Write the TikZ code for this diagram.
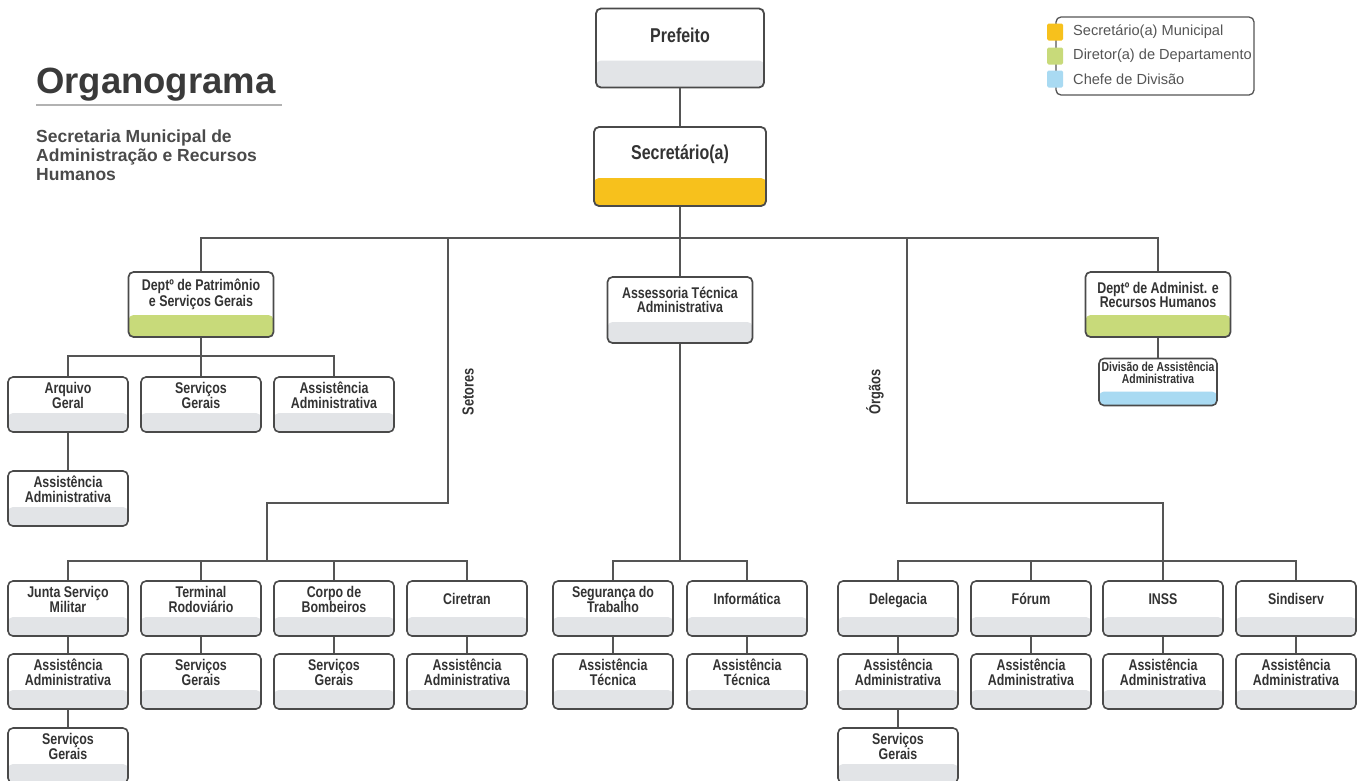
\documentclass[tikz,border=0pt]{standalone}
\usepackage{fontspec}
\setmainfont{Liberation Sans}
\newfontfamily\condfont[FakeStretch=0.8]{Liberation Sans}
\definecolor{linec}{HTML}{555555}
\definecolor{borderc}{HTML}{4A4A4A}
\definecolor{bandgrey}{HTML}{E2E4E7}
\definecolor{bandyellow}{HTML}{F7C11C}
\definecolor{bandgreen}{HTML}{C8DA7A}
\definecolor{bandblue}{HTML}{A9DAF2}
\definecolor{textc}{HTML}{333333}
\definecolor{titlec}{HTML}{3A3A3A}
\definecolor{subc}{HTML}{4A4A4A}
\definecolor{legtext}{HTML}{555555}
\begin{document}
\begin{tikzpicture}[x=1pt,y=-1pt,
  conn/.style={draw=linec, line width=1.6pt, line join=miter},
  base/.style={draw=borderc, line width=1.6pt, rounded corners=5pt, fill=white, inner sep=0pt},
  band/.style 2 args={path picture={\fill[#1] ([yshift=#2]path picture bounding box.south west) rectangle (path picture bounding box.south east);}},
  boxfont/.style={font=\condfont\bfseries\fontsize{15.5}{15}\selectfont, align=center, text=textc},
  sbox/.style={base, minimum width=120pt, minimum height=55pt, band={bandgrey}{19pt}},
  stext/.style={label={[boxfont, yshift=9.5pt]center:{#1}}},
  bigbox/.style={base, line width=1.8pt, minimum height=79pt},
  bigtext/.style={label={[font=\condfont\bfseries\fontsize{20}{22}\selectfont, text=textc, yshift=12.5pt]center:{#1}}},
  dbox/.style={base, line width=1.7pt, minimum width=145pt, minimum height=65pt},
  dtext/.style={label={[font=\condfont\bfseries\fontsize{15.5}{14}\selectfont, align=center, text=textc, yshift=10pt]center:{#1}}},
  side/.style={font=\condfont\bfseries\fontsize{16}{17}\selectfont, text=textc, rotate=90, inner sep=0pt},
  legsq/.style={minimum width=16pt, minimum height=17pt, inner sep=0pt, rounded corners=1.5pt},
  legtxt/.style={anchor=west, font=\fontsize{14.6}{16}\selectfont, text=legtext, inner sep=0pt}
]
\clip (0,0) rectangle (1362,780);
\fill[white] (0,0) rectangle (1362,780);

% title
\node[anchor=base west, font=\bfseries\fontsize{36.5}{40}\selectfont, text=titlec, inner sep=0pt] (title) at (36,93) {Organograma};
\draw[draw=gray!60, line width=2pt] (36,105) -- (282,105);
\node[anchor=north west, align=left, font=\bfseries\fontsize{17.5}{19}\selectfont, text=subc, inner sep=0pt] (sub) at (36,130) {Secretaria Municipal de\\Administração e Recursos\\Humanos};

% legend
\node[draw=linec, line width=1.3pt, rounded corners=5pt, minimum width=198pt, minimum height=78pt, inner sep=0pt] (leg) at (1155,56) {};
\node[legsq, fill=bandyellow] (sqy) at (1055,32) {};
\node[legsq, fill=bandgreen] (sqg) at (1055,56) {};
\node[legsq, fill=bandblue] (sqb) at (1055,79) {};
\node[legtxt] (ly) at (1073,32) {Secretário(a) Municipal};
\node[legtxt] (lg) at (1073,56) {Diretor(a) de Departamento};
\node[legtxt] (lb) at (1073,79) {Chefe de Divisão};

% top boxes
\node[bigbox, minimum width=168pt, band={bandgrey}{27pt}, bigtext={Prefeito}] (pref) at (680,48) {};
\node[bigbox, minimum width=172pt, band={bandyellow}{28pt}, bigtext={Secretário(a)}] (secr) at (680,166.5) {};

% second level
\node[dbox, band={bandgreen}{22pt}, dtext={Deptº de Patrimônio\\e Serviços Gerais}] (patr) at (201,304.5) {};
\node[dbox, minimum height=66pt, band={bandgrey}{21pt}, dtext={Assessoria Técnica\\Administrativa}] (asse) at (680,310) {};
\node[dbox, band={bandgreen}{22pt}, dtext={Deptº de Administ. e\\Recursos Humanos}] (admd) at (1158,304.5) {};
\node[base, minimum width=118pt, minimum height=47pt, band={bandblue}{14pt},
  label={[font=\condfont\bfseries\fontsize{13}{12}\selectfont, align=center, text=textc, yshift=9.5pt]center:{Divisão de Assistência\\Administrativa}}] (divi) at (1158,382) {};

% Patrimonio children
\node[sbox, stext={Arquivo\\Geral}] (arq) at (68,404.5) {};
\node[sbox, stext={Serviços\\Gerais}] (servg) at (201,404.5) {};
\node[sbox, stext={Assistência\\Administrativa}] (assad) at (334,404.5) {};
\node[sbox, stext={Assistência\\Administrativa}] (arqass) at (68,498.5) {};

% Setores
\node[sbox, stext={Junta Serviço\\Militar}] (junta) at (68,608.5) {};
\node[sbox, stext={Terminal\\Rodoviário}] (term) at (201,608.5) {};
\node[sbox, stext={Corpo de\\Bombeiros}] (corpo) at (334,608.5) {};
\node[sbox, stext={Ciretran}] (cire) at (467,608.5) {};
\node[sbox, stext={Assistência\\Administrativa}] (juntaass) at (68,681.5) {};
\node[sbox, stext={Serviços\\Gerais}] (termsg) at (201,681.5) {};
\node[sbox, stext={Serviços\\Gerais}] (corposg) at (334,681.5) {};
\node[sbox, stext={Assistência\\Administrativa}] (cireass) at (467,681.5) {};
\node[sbox, stext={Serviços\\Gerais}] (juntasg) at (68,755.5) {};

% Assessoria children
\node[sbox, stext={Segurança do\\Trabalho}] (seg) at (613,608.5) {};
\node[sbox, stext={Informática}] (info) at (747,608.5) {};
\node[sbox, stext={Assistência\\Técnica}] (segass) at (613,681.5) {};
\node[sbox, stext={Assistência\\Técnica}] (infoass) at (747,681.5) {};

% Orgaos
\node[sbox, stext={Delegacia\vphantom{Ág}}] (dele) at (898,608.5) {};
\node[sbox, stext={Fórum\vphantom{Ág}}] (forum) at (1031,608.5) {};
\node[sbox, stext={INSS\vphantom{Ág}}] (inss) at (1163,608.5) {};
\node[sbox, stext={Sindiserv\vphantom{Ág}}] (sind) at (1296,608.5) {};
\node[sbox, stext={Assistência\\Administrativa}] (deleass) at (898,681.5) {};
\node[sbox, stext={Assistência\\Administrativa}] (forumass) at (1031,681.5) {};
\node[sbox, stext={Assistência\\Administrativa}] (inssass) at (1163,681.5) {};
\node[sbox, stext={Assistência\\Administrativa}] (sindass) at (1296,681.5) {};
\node[sbox, stext={Serviços\\Gerais}] (delesg) at (898,755.5) {};

% side labels
\node[side] (setl) at (468,392) {Setores};
\node[side] (orgl) at (875,392) {Órgãos};

% coordinates
\coordinate (bus) at (680,238);
\coordinate (setA) at (448,238);
\coordinate (setB) at (448,503);
\coordinate (setC) at (267,503);
\coordinate (setD) at (267,561);
\coordinate (orgA) at (907,238);
\coordinate (orgB) at (907,503);
\coordinate (orgC) at (1163,503);
\coordinate (orgD) at (1163,561);
\coordinate (patbus) at (201,356);
\coordinate (asbus) at (680,561);

% connectors
\draw[conn] (pref.south) -- (secr.north);
\draw[conn] (secr.south) -- (bus);
\draw[conn] (patr.north) -- (patr.north |- bus) -- (admd.north |- bus) -- (admd.north);
\draw[conn] (asse.north) -- (bus);
\draw[conn] (setA) -- (setB) -- (setC) -- (setD);
\draw[conn] (orgA) -- (orgB) -- (orgC) -- (orgD);
\draw[conn] (admd.south) -- (divi.north);

\draw[conn] (patr.south) -- (patbus);
\draw[conn] (arq.north) -- (arq.north |- patbus) -- (assad.north |- patbus) -- (assad.north);
\draw[conn] (servg.north) -- (servg.north |- patbus);
\draw[conn] (arq.south) -- (arqass.north);

\draw[conn] (junta.north) -- (junta.north |- setD) -- (cire.north |- setD) -- (cire.north);
\draw[conn] (term.north) -- (term.north |- setD);
\draw[conn] (corpo.north) -- (corpo.north |- setD);

\draw[conn] (asse.south) -- (asbus);
\draw[conn] (seg.north) -- (seg.north |- asbus) -- (info.north |- asbus) -- (info.north);

\draw[conn] (dele.north) -- (dele.north |- orgD) -- (sind.north |- orgD) -- (sind.north);
\draw[conn] (forum.north) -- (forum.north |- orgD);
\draw[conn] (inss.north) -- (inss.north |- orgD);

\foreach \a/\b in {junta/juntaass, juntaass/juntasg, term/termsg, corpo/corposg, cire/cireass,
                   seg/segass, info/infoass, dele/deleass, deleass/delesg, forum/forumass,
                   inss/inssass, sind/sindass}
  \draw[conn] (\a.south) -- (\b.north);
\end{tikzpicture}
\end{document}
